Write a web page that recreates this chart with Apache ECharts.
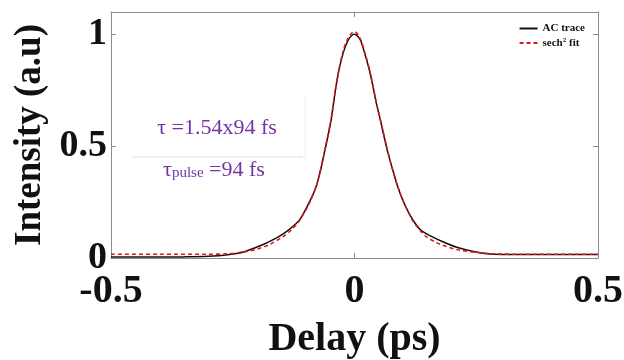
<!DOCTYPE html>
<html>
<head>
<meta charset="utf-8">
<script src="https://cdn.jsdelivr.net/npm/echarts@6/dist/echarts.min.js"></script>
<style>html,body{margin:0;padding:0;background:#fff}#c{width:624px;height:360px}</style>
</head>
<body>
<div id="c"></div>
<script>
// AC trace (measured)
const traceDelay = [-0.50,-0.45,-0.40,-0.35,-0.30,-0.26,-0.23,-0.19,-0.16,-0.145,-0.13,-0.113,-0.095,-0.079,-0.070,-0.062,-0.055,-0.048,-0.038,-0.030,-0.022,-0.014,-0.007,0,0.007,0.014,0.021,0.030,0.038,0.045,0.053,0.061,0.069,0.079,0.089,0.104,0.12,0.136,0.155,0.18,0.21,0.247,0.285,0.33,0.40,0.50];
const traceValue = [0.004,0.004,0.004,0.005,0.008,0.015,0.026,0.058,0.09,0.11,0.135,0.17,0.24,0.318,0.39,0.47,0.54,0.618,0.767,0.86,0.925,0.97,0.993,1.0,0.99,0.965,0.915,0.845,0.767,0.69,0.618,0.54,0.468,0.39,0.318,0.235,0.17,0.125,0.1,0.074,0.048,0.028,0.017,0.016,0.016,0.016];
// sech^2 fit
const fitDelay = [-0.50,-0.40,-0.30,-0.26,-0.23,-0.20,-0.175,-0.147,-0.13,-0.113,-0.095,-0.079,-0.070,-0.062,-0.055,-0.048,-0.038,-0.030,-0.022,-0.014,-0.007,0,0.007,0.014,0.021,0.030,0.038,0.045,0.053,0.061,0.069,0.079,0.089,0.104,0.12,0.136,0.147,0.165,0.18,0.21,0.25,0.29,0.35,0.50];
const fitValue = [0.017,0.017,0.017,0.019,0.026,0.040,0.06,0.095,0.125,0.168,0.235,0.318,0.39,0.47,0.545,0.622,0.77,0.865,0.935,0.98,1.003,1.012,1.0,0.97,0.92,0.85,0.77,0.695,0.62,0.545,0.47,0.39,0.318,0.235,0.165,0.12,0.096,0.072,0.058,0.038,0.025,0.018,0.017,0.017];
const xTicks = [-0.5, 0, 0.5];
const yTicks = [0, 0.5, 1];
const seriesNames = ['AC trace', 'sech2 fit'];

const serif = '"Liberation Serif","Times New Roman",serif';
const axisGray = '#8c8c8c';
const chart = echarts.init(document.getElementById('c'));
const fmt = v => (v === 0 ? '0' : String(v));
const frameAxis = {
  axisLine: {show: true, onZero: false, lineStyle: {color: axisGray}},
  axisTick: {inside: true, length: 5, lineStyle: {color: axisGray}},
  splitLine: {show: false}
};
chart.setOption({
  animation: false,
  grid: {left: 111, right: 26, top: 12, bottom: 102, containLabel: false, outerBoundsMode: 'none'},
  legend: {
    right: 34, top: 18, orient: 'vertical', itemGap: 3,
    itemWidth: 18, itemHeight: 10,
    itemStyle: {opacity: 0},
    textStyle: {fontFamily: serif, fontWeight: 'bold', fontSize: 11, color: '#111',
      rich: {sup: {fontFamily: serif, fontWeight: 'bold', fontSize: 7, verticalAlign: 'top', padding: [0,0,5,0]}}},
    formatter: n => n === 'sech2 fit' ? 'sech{sup|2} fit' : n,
    data: seriesNames
  },
  xAxis: [Object.assign({
    type: 'value', min: -0.5, max: 0.5, interval: 0.5,
    axisLabel: {fontFamily: serif, fontWeight: 'bold', fontSize: 40, color: '#111', margin: 14,
      formatter: v => xTicks.includes(v) ? fmt(v) : ''},
    name: 'Delay (ps)', nameLocation: 'middle', nameGap: 62,
    nameTextStyle: {fontFamily: serif, fontWeight: 'bold', fontSize: 40, color: '#111'}
  }, frameAxis), Object.assign({
    type: 'value', position: 'top', min: -0.5, max: 0.5, interval: 0.5,
    axisLabel: {show: false}
  }, frameAxis)],
  yAxis: [Object.assign({
    type: 'value', min: 0, max: 1.1, interval: 0.5,
    axisLabel: {fontFamily: serif, fontWeight: 'bold', fontSize: 38, color: '#111', margin: 4,
      formatter: v => yTicks.includes(v) ? fmt(v) : ''},
    name: 'Intensity (a.u)', nameLocation: 'middle', nameGap: 62, nameRotate: 90,
    nameTextStyle: {fontFamily: serif, fontWeight: 'bold', fontSize: 37, color: '#111'}
  }, frameAxis), Object.assign({
    type: 'value', position: 'right', min: 0, max: 1.1, interval: 0.5,
    axisLabel: {show: false}
  }, frameAxis)],
  series: [{
    name: seriesNames[0], type: 'line', symbol: 'none', smooth: 0.3,
    data: traceDelay.map((d, i) => [d, traceValue[i]]),
    lineStyle: {color: '#111', width: 1.5}, itemStyle: {color: '#111'}, z: 2
  }, {
    name: seriesNames[1], type: 'line', symbol: 'none', smooth: 0.3,
    data: fitDelay.map((d, i) => [d, fitValue[i]]),
    lineStyle: {color: '#e8141b', width: 1.6, type: [4, 3]}, itemStyle: {color: '#e8141b'}, z: 3
  }],
  graphic: [
    {type: 'line', shape: {x1: 132, y1: 157, x2: 303, y2: 157}, style: {stroke: '#cfe0f4', lineWidth: 1}, silent: true},
    {type: 'line', shape: {x1: 305, y1: 96, x2: 305, y2: 160}, style: {stroke: '#eef1f7', lineWidth: 1}, silent: true},
    {type: 'text', x: 217, y: 128, style: {text: 'τ =1.54x94 fs', font: '22px ' + serif, fill: '#7434a4', align: 'center', verticalAlign: 'middle'}},
    {type: 'text', x: 214, y: 170, style: {text: 'τ{sub|pulse} =94 fs', font: '22px ' + serif, fill: '#7434a4', align: 'center', verticalAlign: 'middle',
      rich: {sub: {font: '15px ' + serif, fill: '#7434a4', verticalAlign: 'bottom', padding: [6,0,0,0]}}}}
  ]
});
</script>
</body>
</html>
